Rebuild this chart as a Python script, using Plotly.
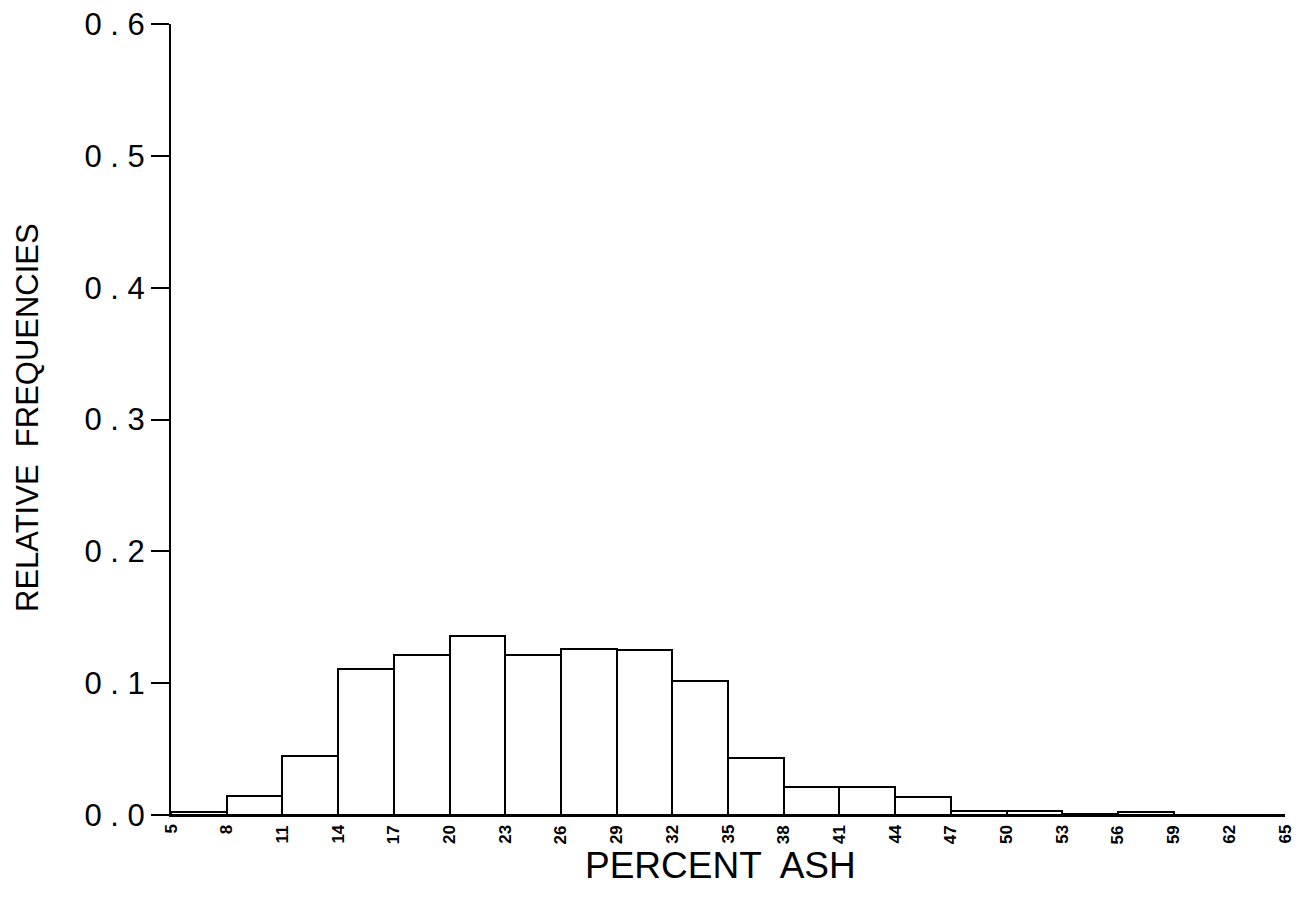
import plotly.graph_objects as go

bin_left = [5, 8, 11, 14, 17, 20, 23, 26, 29, 32, 35, 38, 41, 44, 47, 50, 53, 56, 59, 62]
rel_freq = [0.002, 0.0143, 0.045, 0.111, 0.1215, 0.136, 0.121, 0.126, 0.125, 0.1013,
            0.0433, 0.021, 0.021, 0.0135, 0.003, 0.003, 0.001, 0.002, 0.0, 0.0]
bin_width = 3
x_ticks = list(range(5, 66, 3))
y_ticks = [0.0, 0.1, 0.2, 0.3, 0.4, 0.5, 0.6]
y_ticktext = [" . ".join(f"{v:.1f}".split(".")) for v in y_ticks]

fig = go.Figure()
fig.add_trace(go.Bar(
    x=[b + bin_width / 2 for b in bin_left],
    y=rel_freq,
    width=bin_width,
    marker=dict(color="white", line=dict(color="black", width=2)),
    showlegend=False,
))

plot_h = 907 - 24 - 92
plot_w = 1296 - 171 - 11

annotations = [
    dict(text="PERCENT  ASH", xref="paper", yref="paper",
         x=(720 - 171) / plot_w, y=-(865 - 815) / plot_h,
         xanchor="center", yanchor="middle",
         showarrow=False, font=dict(size=37, family="Liberation Sans", color="black")),
    dict(text="RELATIVE  FREQUENCIES", textangle=-90, xref="paper", yref="paper",
         x=-(171 - 27) / plot_w, y=(815 - 418) / plot_h,
         xanchor="center", yanchor="middle", showarrow=False,
         font=dict(size=31, family="Liberation Sans", color="black")),
]
# x tick labels, rotated to read bottom-to-top, placed on the x axis scale
for v in x_ticks:
    annotations.append(dict(
        text="<b>%d</b>" % v, textangle=-90, xref="x", yref="paper",
        x=v, y=-(823 - 815) / plot_h, xanchor="center", yanchor="top",
        showarrow=False, font=dict(size=17, family="Liberation Sans", color="black"),
    ))

fig.update_layout(
    width=1296, height=907,
    margin=dict(l=171, r=11, t=24, b=92, autoexpand=False),
    paper_bgcolor="white", plot_bgcolor="white",
    bargap=0,
    font=dict(family="Liberation Sans", color="black"),
    xaxis=dict(
        range=[5, 65], tickmode="array", tickvals=x_ticks,
        showticklabels=False, showgrid=False, zeroline=False,
        showline=True, linecolor="black", linewidth=2, ticks="",
    ),
    yaxis=dict(
        range=[0, 0.6], tickmode="array", tickvals=y_ticks, ticktext=y_ticktext,
        showgrid=False, zeroline=False,
        showline=True, linecolor="black", linewidth=2,
        ticks="outside", ticklen=18, tickwidth=2, tickcolor="black",
        tickfont=dict(size=31, family="Liberation Sans", color="black"),
    ),
    annotations=annotations,
)

fig.write_html("out.html")
